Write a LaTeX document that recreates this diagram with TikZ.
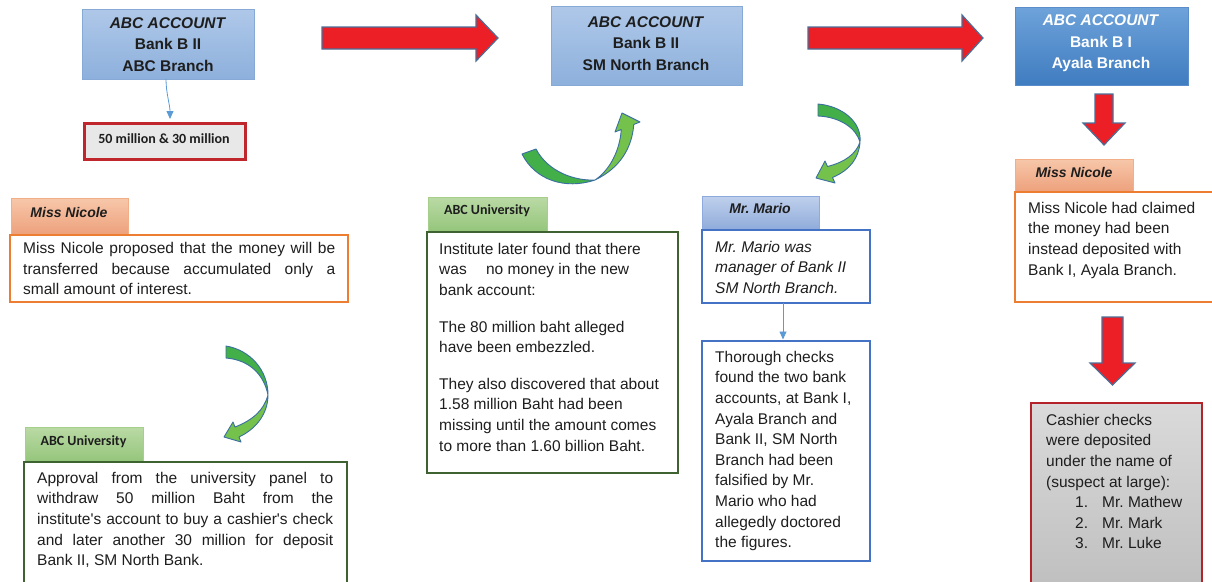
\documentclass[tikz,border=0pt]{standalone}
\usepackage{fontspec}
\setmainfont{Liberation Sans}
\newfontfamily\calfont{Carlito}
\usetikzlibrary{arrows.meta}
\frenchspacing
\definecolor{txt}{HTML}{1E1E1E}
\definecolor{lbA}{HTML}{AFC8E9}
\definecolor{lbB}{HTML}{8DB0DC}
\definecolor{lbD}{HTML}{86A9D6}
\definecolor{dbA}{HTML}{6EA3DA}
\definecolor{dbB}{HTML}{3F7CC0}
\definecolor{dbD}{HTML}{5A8DC9}
\definecolor{redA}{HTML}{ED1F26}
\definecolor{redD}{HTML}{4A6E98}
\definecolor{moneyD}{HTML}{C0272D}
\definecolor{moneyF}{HTML}{E8E8E8}
\definecolor{orD}{HTML}{ED7D31}
\definecolor{orA}{HTML}{F7C7AA}
\definecolor{orB}{HTML}{EDA07B}
\definecolor{orT}{HTML}{F2AE86}
\definecolor{grA}{HTML}{BADAA5}
\definecolor{grB}{HTML}{94C57A}
\definecolor{grT}{HTML}{A6CF8C}
\definecolor{grD}{HTML}{3F6330}
\definecolor{blA}{HTML}{BFD0EC}
\definecolor{blB}{HTML}{8FABDA}
\definecolor{blT}{HTML}{8FAADC}
\definecolor{blD}{HTML}{4472C4}
\definecolor{cashA}{HTML}{DADADA}
\definecolor{cashB}{HTML}{BDBDBD}
\definecolor{cashD}{HTML}{B4232A}
\definecolor{gDark}{HTML}{42AF48}
\definecolor{gLight}{HTML}{74C14C}
\definecolor{gLine}{HTML}{3A6FA0}
\definecolor{conn}{HTML}{5B9BD5}
\newcommand\bodyfont{\fontsize{15.5}{20.6}\selectfont\frenchspacing}
\newcommand\topfont{\bfseries\fontsize{15.5}{21.5}\selectfont}
\tikzset{
  box/.style={anchor=north west, inner sep=0pt, outer sep=0pt},
  body/.style={anchor=north west, inner sep=0pt, font=\bodyfont, text=txt, align=left},
  toptext/.style={inner sep=0pt, font=\topfont, text=txt, align=center},
  tablabel/.style={inner sep=0pt, font=\bfseries\itshape\fontsize{14}{16}\selectfont\frenchspacing, text=txt},
  unilabel/.style={inner sep=0pt, font=\calfont\bfseries\fontsize{14}{16}\selectfont, text=txt},
  redarr/.style={fill=redA, draw=redD, line width=1.2pt, line join=miter},
  garr/.style={draw=gLine, line width=0.9pt, line join=round},
  connector/.style={draw=conn, line width=0.8pt, -{Triangle[width=7pt,length=8pt]}},
}
\begin{document}
\begin{tikzpicture}[x=1pt,y=-1pt]
\useasboundingbox (0,0) rectangle (1212,581);
\clip (0,0) rectangle (1212,581);

% ---------- top boxes ----------
\node[box, minimum width=172pt, minimum height=70pt, top color=lbA, bottom color=lbB, draw=lbD, line width=0.8pt] (b1) at (82,9) {};
\node[toptext] (t1) at (168,44.5) {\textit{ABC ACCOUNT}\\Bank B II\\ABC Branch};

\node[box, minimum width=191pt, minimum height=79pt, top color=lbA, bottom color=lbB, draw=lbD, line width=0.8pt] (b2) at (551,6) {};
\node[toptext] (t2) at (646,43.5) {\textit{ABC ACCOUNT}\\Bank B II\\SM North Branch};

\node[box, minimum width=173pt, minimum height=78pt, top color=dbA, bottom color=dbB, draw=dbD, line width=0.8pt] (b3) at (1015,7) {};
\node[toptext, text=white] (t3) at (1101,43.5) {\textit{ABC ACCOUNT}\\Bank B I\\Ayala Branch};

% ---------- money box ----------
\node[box, minimum width=161pt, minimum height=36pt, fill=moneyF, draw=moneyD, line width=3pt] (money) at (84,123) {};
\node[inner sep=0pt, font=\calfont\bfseries\fontsize{14}{16}\selectfont, text=txt] (moneytext) at (164,139) {50 million \& 30 million};
\draw[connector, shorten >=4pt] ([xshift=-2pt]b1.south) .. controls +(0,14) and +(0,-18) .. ([xshift=5.5pt]money.north);

% ---------- red block arrows ----------
\draw[redarr] (322,27) -- (476,27) -- (476,15) -- (498,38) -- (476,61) -- (476,49) -- (322,49) -- cycle;
\draw[redarr] (808,27) -- (962,27) -- (962,15) -- (983,38) -- (962,61) -- (962,49) -- (808,49) -- cycle;
\draw[redarr] (1095,94) -- (1113,94) -- (1113,123) -- (1125,123) -- (1104,145) -- (1083,123) -- (1095,123) -- cycle;
\draw[redarr] (1102,317) -- (1123,317) -- (1123,363) -- (1135,363) -- (1112.5,385) -- (1090,363) -- (1102,363) -- cycle;

% ---------- green curved arrows ----------
% middle (up)
\fill[gDark] (522,154) .. controls (535,180) and (565,190) .. (595,180) .. controls (575,181) and (548,172) .. (536,149) -- cycle;
\fill[gLight] (595,180) .. controls (620,168) and (632,148) .. (633.75,124.5) -- (640,122) -- (622,113) -- (615,132) -- (621.25,129.5) .. controls (620,150) and (610,170) .. (595,180) -- cycle;
\draw[garr] (522,154) .. controls (535,180) and (565,190) .. (595,180) .. controls (620,168) and (632,148) .. (633.75,124.5) -- (640,122) -- (622,113) -- (615,132) -- (621.25,129.5) .. controls (620,150) and (610,170) .. (595,180) .. controls (575,181) and (548,172) .. (536,149) -- cycle;
% right (down)
\fill[gDark] (818,104) .. controls (842,106) and (862,122) .. (860,142) .. controls (856,128) and (840,117) .. (818,116) -- cycle;
\fill[gLight] (860,142) .. controls (859,158) and (850,170) .. (832.5,177.5) -- (835,183) -- (816,178) -- (825,161) -- (827.5,166.5) .. controls (845,162) and (856,154) .. (860,142) -- cycle;
\draw[garr] (818,104) .. controls (842,106) and (862,122) .. (860,142) .. controls (859,158) and (850,170) .. (832.5,177.5) -- (835,183) -- (816,178) -- (825,161) -- (827.5,166.5) .. controls (845,162) and (856,154) .. (860,142) .. controls (856,128) and (840,117) .. (818,116) -- cycle;
% left (down)
\fill[gDark] (226,346) .. controls (250,350) and (268,370) .. (268,395) .. controls (264,375) and (250,360) .. (226,358) -- cycle;
\fill[gLight] (268,395) .. controls (268,412) and (258,428) .. (239,437) -- (241,442) -- (224,437) -- (233,422) -- (235,427) .. controls (253,420) and (264,410) .. (268,395) -- cycle;
\draw[garr] (226,346) .. controls (250,350) and (268,370) .. (268,395) .. controls (268,412) and (258,428) .. (239,437) -- (241,442) -- (224,437) -- (233,422) -- (235,427) .. controls (253,420) and (264,410) .. (268,395) .. controls (264,375) and (250,360) .. (226,358) -- cycle;

% ---------- left Miss Nicole ----------
\node[box, minimum width=117pt, minimum height=37pt, top color=orA, bottom color=orB, draw=orT, line width=1pt] (tabN1) at (11,198) {};
\node[tablabel] (labN1) at (69,212) {Miss Nicole};
\node[box, minimum width=338pt, minimum height=67pt, fill=white, draw=orD, line width=1.6pt] (boxN1) at (10,235) {};
\node[body, text width=312pt, align=justify] (txtN1) at (23,239) {\strut Miss Nicole proposed that the money will be\linebreak transferred because accumulated only a\linebreak small amount of interest.};

% ---------- left ABC University ----------
\node[box, minimum width=118pt, minimum height=35pt, top color=grA, bottom color=grB, draw=grT, line width=1pt] (tabU1) at (25,427) {};
\node[unilabel] (labU1) at (83.5,442) {ABC University};
\node[box, minimum width=323pt, minimum height=140pt, fill=white, draw=grD, line width=1.6pt] (boxU1) at (24,462) {};
\node[body, text width=296pt, align=justify] (txtU1) at (37,468.6) {\strut Approval from the university panel to\linebreak withdraw 50 million Baht from the\linebreak institute\textquotesingle s account to buy a cashier\textquotesingle s check\linebreak and later another 30 million for deposit\linebreak Bank II, SM North Bank.};

% ---------- middle ABC University ----------
\node[box, minimum width=119pt, minimum height=35pt, top color=grA, bottom color=grB, draw=grT, line width=1pt] (tabU2) at (428,197) {};
\node[unilabel] (labU2) at (487,211) {ABC University};
\node[box, minimum width=251pt, minimum height=241pt, fill=white, draw=grD, line width=1.6pt] (boxU2) at (427,232) {};
\node[body] (txtU2) at (439,239.6) {\strut Institute later found that there\\was\hspace{15pt} no money in the new\\bank account:\\[16pt]The 80 million baht alleged\\have been embezzled.\\[16pt]They also discovered that about\\1.58 million Baht had been\\missing until the amount comes\\to more than 1.60 billion Baht.};

% ---------- Mr. Mario ----------
\node[box, minimum width=117pt, minimum height=34pt, top color=blA, bottom color=blB, draw=blT, line width=1pt] (tabM) at (702,196) {};
\node[tablabel] (labM) at (760,208) {Mr. Mario};
\node[box, minimum width=168pt, minimum height=73pt, fill=white, draw=blD, line width=1.6pt] (mario) at (702,230) {};
\node[body, font=\bodyfont\itshape] (txtM) at (715,237.6) {\strut Mr. Mario was\\manager of Bank II\\SM North Branch.};
\node[box, minimum width=168pt, minimum height=220pt, fill=white, draw=blD, line width=1.6pt] (thor) at (702,341) {};
\node[body] (txtT) at (715,347.6) {\strut Thorough checks\\found the two bank\\accounts, at Bank I,\\Ayala Branch and\\Bank II, SM North\\Branch had been\\falsified by Mr.\\Mario who had\\allegedly doctored\\the figures.};
\draw[connector, shorten >=1.5pt] ([xshift=-3pt]mario.south) -- ([xshift=-3pt]thor.north);

% ---------- right Miss Nicole ----------
\node[box, minimum width=118pt, minimum height=33pt, top color=orA, bottom color=orB, draw=orT, line width=1pt] (tabN2) at (1015,159) {};
\node[tablabel] (labN2) at (1074,172) {Miss Nicole};
\node[box, minimum width=220pt, minimum height=110pt, fill=white, draw=orD, line width=1.6pt] (boxN2) at (1015,192) {};
\node[body] (txtN2) at (1028,198.6) {\strut Miss Nicole had claimed\\the money had been\\instead deposited with\\Bank I, Ayala Branch.};

% ---------- cashier checks ----------
\node[box, minimum width=171pt, minimum height=200pt, top color=cashA, bottom color=cashB, draw=cashD, line width=2.6pt] (cash) at (1031,403) {};
\node[body] (txtC) at (1046,410.6) {\strut Cashier checks\\were deposited\\under the name of\\(suspect at large):\\\hspace*{29pt}\makebox[27pt][l]{1.}Mr. Mathew\\\hspace*{29pt}\makebox[27pt][l]{2.}Mr. Mark\\\hspace*{29pt}\makebox[27pt][l]{3.}Mr. Luke};
\end{tikzpicture}
\end{document}
